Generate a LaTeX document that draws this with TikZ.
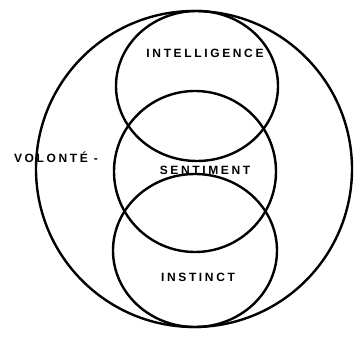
\documentclass[tikz,border=0pt]{standalone}
\usepackage{fontspec}
\setmainfont{Liberation Sans}
\usepackage{tikz}
\usetikzlibrary{shapes.geometric}

\begin{document}
\begin{tikzpicture}[x=1pt, y=1pt,
        ring/.style = {draw, ellipse, line width=2.4pt, inner sep=0pt},
        lbl/.style = {font=\fontsize{12}{14}\selectfont\bfseries\addfontfeature{LetterSpace=22}, inner sep=0pt}]
            \useasboundingbox (0,0) rectangle (356,337);

            \node[ring, minimum width=316pt, minimum height=316pt] (volonte) at (194,168) {};
            \node[ring, minimum width=162pt, minimum height=150pt] (intel) at (197,251) {};
            \node[ring, minimum width=162pt, minimum height=161pt] (sent) at (195,165.5) {};
            \node[ring, minimum width=164pt, minimum height=153pt] (inst) at (195,86.5) {};

            \node[lbl] (intelText) at (205,284) {INTELLIGENCE};
            \node[lbl] (sentText) at (205,167) {SENTIMENT};
            \node[lbl] (instText) at (198,60) {INSTINCT};
            \node[lbl] (volText) at (56,180) {VOLONTÉ -};
        \end{tikzpicture}
\end{document}
